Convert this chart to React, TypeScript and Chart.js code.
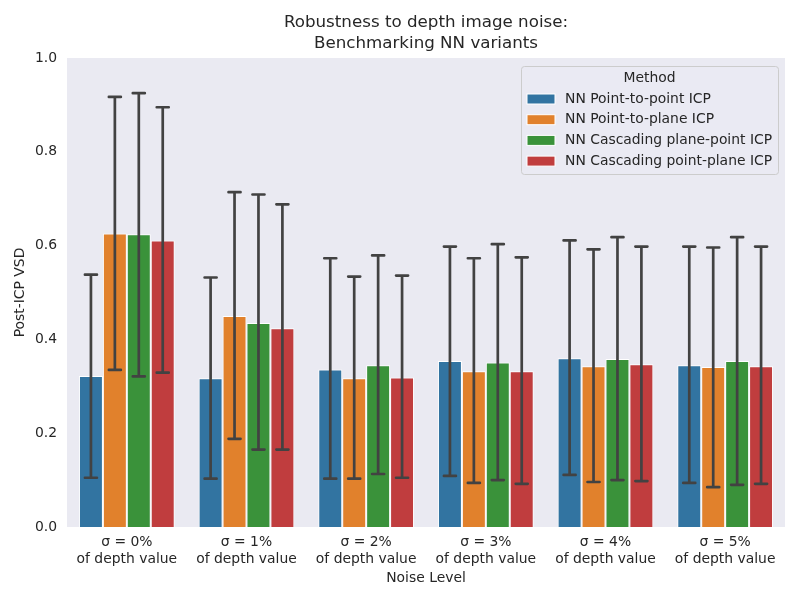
import React, { useEffect, useRef } from "react";
import { Chart, registerables } from "chart.js";

Chart.register(...registerables);

const noiseLevels = ["0%", "1%", "2%", "3%", "4%", "5%"];
const methods = [
  "NN Point-to-point ICP",
  "NN Point-to-plane ICP",
  "NN Cascading plane-point ICP",
  "NN Cascading point-plane ICP",
];
const colors = ["#3274a1", "#e1812c", "#3a923a", "#c03d3e"];

// mean post-ICP VSD per noise level
const pointToPointMean = [0.322, 0.317, 0.336, 0.354, 0.36, 0.345];
const pointToPlaneMean = [0.626, 0.45, 0.317, 0.332, 0.343, 0.341];
const planePointMean = [0.624, 0.435, 0.345, 0.351, 0.358, 0.354];
const pointPlaneMean = [0.611, 0.424, 0.319, 0.332, 0.347, 0.343];

// error bar lower ends
const pointToPointLow = [0.105, 0.103, 0.103, 0.109, 0.111, 0.094];
const pointToPlaneLow = [0.335, 0.188, 0.103, 0.094, 0.096, 0.085];
const planePointLow = [0.321, 0.165, 0.113, 0.1, 0.1, 0.09];
const pointPlaneLow = [0.329, 0.165, 0.105, 0.092, 0.098, 0.092];

// error bar upper ends
const pointToPointHigh = [0.538, 0.532, 0.573, 0.598, 0.611, 0.598];
const pointToPlaneHigh = [0.917, 0.714, 0.534, 0.573, 0.592, 0.596];
const planePointHigh = [0.925, 0.709, 0.579, 0.603, 0.618, 0.618];
const pointPlaneHigh = [0.895, 0.688, 0.536, 0.575, 0.598, 0.598];

const yTicks = [0, 0.2, 0.4, 0.6, 0.8, 1.0];

const means = [pointToPointMean, pointToPlaneMean, planePointMean, pointPlaneMean];
const lows = [pointToPointLow, pointToPlaneLow, planePointLow, pointPlaneLow];
const highs = [pointToPointHigh, pointToPlaneHigh, planePointHigh, pointPlaneHigh];

const FONT = "'DejaVu Sans', sans-serif";
const TEXT = "#262626";
const SIZE = 13.9;

const backgroundPlugin = {
  id: "axesBackground",
  beforeDraw(chart: any) {
    const { ctx, chartArea } = chart;
    ctx.save();
    ctx.fillStyle = "#eaeaf2";
    ctx.fillRect(chartArea.left, chartArea.top, chartArea.right - chartArea.left, chartArea.bottom - chartArea.top);
    ctx.restore();
  },
};

const errorBarPlugin = {
  id: "errorBars",
  afterDatasetsDraw(chart: any) {
    const { ctx } = chart;
    const y = chart.scales.y;
    ctx.save();
    ctx.strokeStyle = "#424242";
    ctx.lineWidth = 2.7;
    chart.data.datasets.forEach((_ds: any, i: number) => {
      const meta = chart.getDatasetMeta(i);
      meta.data.forEach((bar: any, j: number) => {
        const x = bar.x;
        const yl = y.getPixelForValue(lows[i][j]);
        const yh = y.getPixelForValue(highs[i][j]);
        ctx.lineCap = "butt";
        ctx.beginPath();
        ctx.moveTo(x, yl);
        ctx.lineTo(x, yh);
        ctx.stroke();
        ctx.lineCap = "round";
        ctx.beginPath();
        ctx.moveTo(x - 6, yl);
        ctx.lineTo(x + 6, yl);
        ctx.moveTo(x - 6, yh);
        ctx.lineTo(x + 6, yh);
        ctx.stroke();
      });
    });
    ctx.restore();
  },
};

const titlePlugin = {
  id: "twoLineTitle",
  afterDraw(chart: any) {
    const { ctx, chartArea } = chart;
    const cx = (chartArea.left + chartArea.right) / 2;
    ctx.save();
    ctx.fillStyle = TEXT;
    ctx.font = `16.7px ${FONT}`;
    ctx.textAlign = "center";
    ctx.textBaseline = "middle";
    ctx.fillText("Robustness to depth image noise:", cx, 23);
    ctx.fillText("Benchmarking NN variants", cx, 44);
    ctx.restore();
  },
};

const legendPlugin = {
  id: "boxLegend",
  afterDraw(chart: any) {
    const { ctx } = chart;
    const x0 = 521;
    const y0 = 66;
    const w = 257;
    const h = 108;
    ctx.save();
    ctx.fillStyle = "rgba(234,234,242,0.8)";
    ctx.strokeStyle = "#cccccc";
    ctx.lineWidth = 1;
    ctx.beginPath();
    ctx.roundRect(x0 + 0.5, y0 + 0.5, w, h, 3);
    ctx.fill();
    ctx.stroke();
    ctx.fillStyle = TEXT;
    ctx.font = `${SIZE}px ${FONT}`;
    ctx.textAlign = "center";
    ctx.textBaseline = "middle";
    ctx.fillText("Method", x0 + w / 2, y0 + 12);
    ctx.textAlign = "left";
    chart.data.datasets.forEach((ds: any, i: number) => {
      const ry = y0 + 33 + i * 20.7;
      ctx.fillStyle = ds.backgroundColor;
      ctx.strokeStyle = "#ffffff";
      ctx.fillRect(x0 + 6, ry - 5, 28, 10);
      ctx.strokeRect(x0 + 6, ry - 5, 28, 10);
      ctx.fillStyle = TEXT;
      ctx.fillText(ds.label, x0 + 44, ry);
    });
    ctx.restore();
  },
};

const App: React.FC = () => {
  const chartRef = useRef<HTMLCanvasElement | null>(null);

  useEffect(() => {
    document.body.style.margin = "0";
    if (!chartRef.current) return;

    const chart = new Chart(chartRef.current, {
      type: "bar",
      data: {
        labels: noiseLevels.map((n) => [`\u03c3 = ${n}`, "of depth value"]),
        datasets: methods.map((m, i) => ({
          label: m,
          data: means[i],
          backgroundColor: colors[i],
          borderColor: "#ffffff",
          borderWidth: 1,
          barPercentage: 1.0,
          categoryPercentage: 0.8,
        })),
      },
      options: {
        responsive: true,
        maintainAspectRatio: false,
        animation: false,
        layout: { padding: { top: 58, right: 15, left: 0, bottom: 0 } },
        plugins: {
          legend: { display: false },
          title: { display: false },
          tooltip: { enabled: false },
        },
        scales: {
          x: {
            grid: { display: false, drawTicks: false },
            border: { display: false },
            ticks: { color: TEXT, font: { family: FONT, size: SIZE }, padding: 7, maxRotation: 0 },
            title: {
              display: true,
              text: "Noise Level",
              color: TEXT,
              font: { family: FONT, size: SIZE },
              padding: { top: 4, bottom: 13 },
            },
            afterFit: (scale: any) => {
              scale.height = 73;
            },
          },
          y: {
            min: 0,
            max: 1.0,
            afterBuildTicks: (scale: any) => {
              scale.ticks = yTicks.map((v) => ({ value: v }));
            },
            grid: { display: false, drawTicks: false },
            border: { display: false },
            ticks: {
              color: TEXT,
              font: { family: FONT, size: SIZE },
              padding: 10,
              callback: (v: any) => Number(v).toFixed(1),
            },
            title: {
              display: true,
              text: "Post-ICP VSD",
              color: TEXT,
              font: { family: FONT, size: SIZE },
              padding: { top: 12, bottom: 0 },
            },
            afterFit: (scale: any) => {
              scale.width = 67;
            },
          },
        },
      },
      plugins: [backgroundPlugin, errorBarPlugin, titlePlugin, legendPlugin],
    });

    return () => {
      chart.destroy();
    };
  }, []);

  return (
    <div style={{ width: "800px", height: "600px", position: "relative" }}>
      <canvas ref={chartRef} />
    </div>
  );
};

export default App;
